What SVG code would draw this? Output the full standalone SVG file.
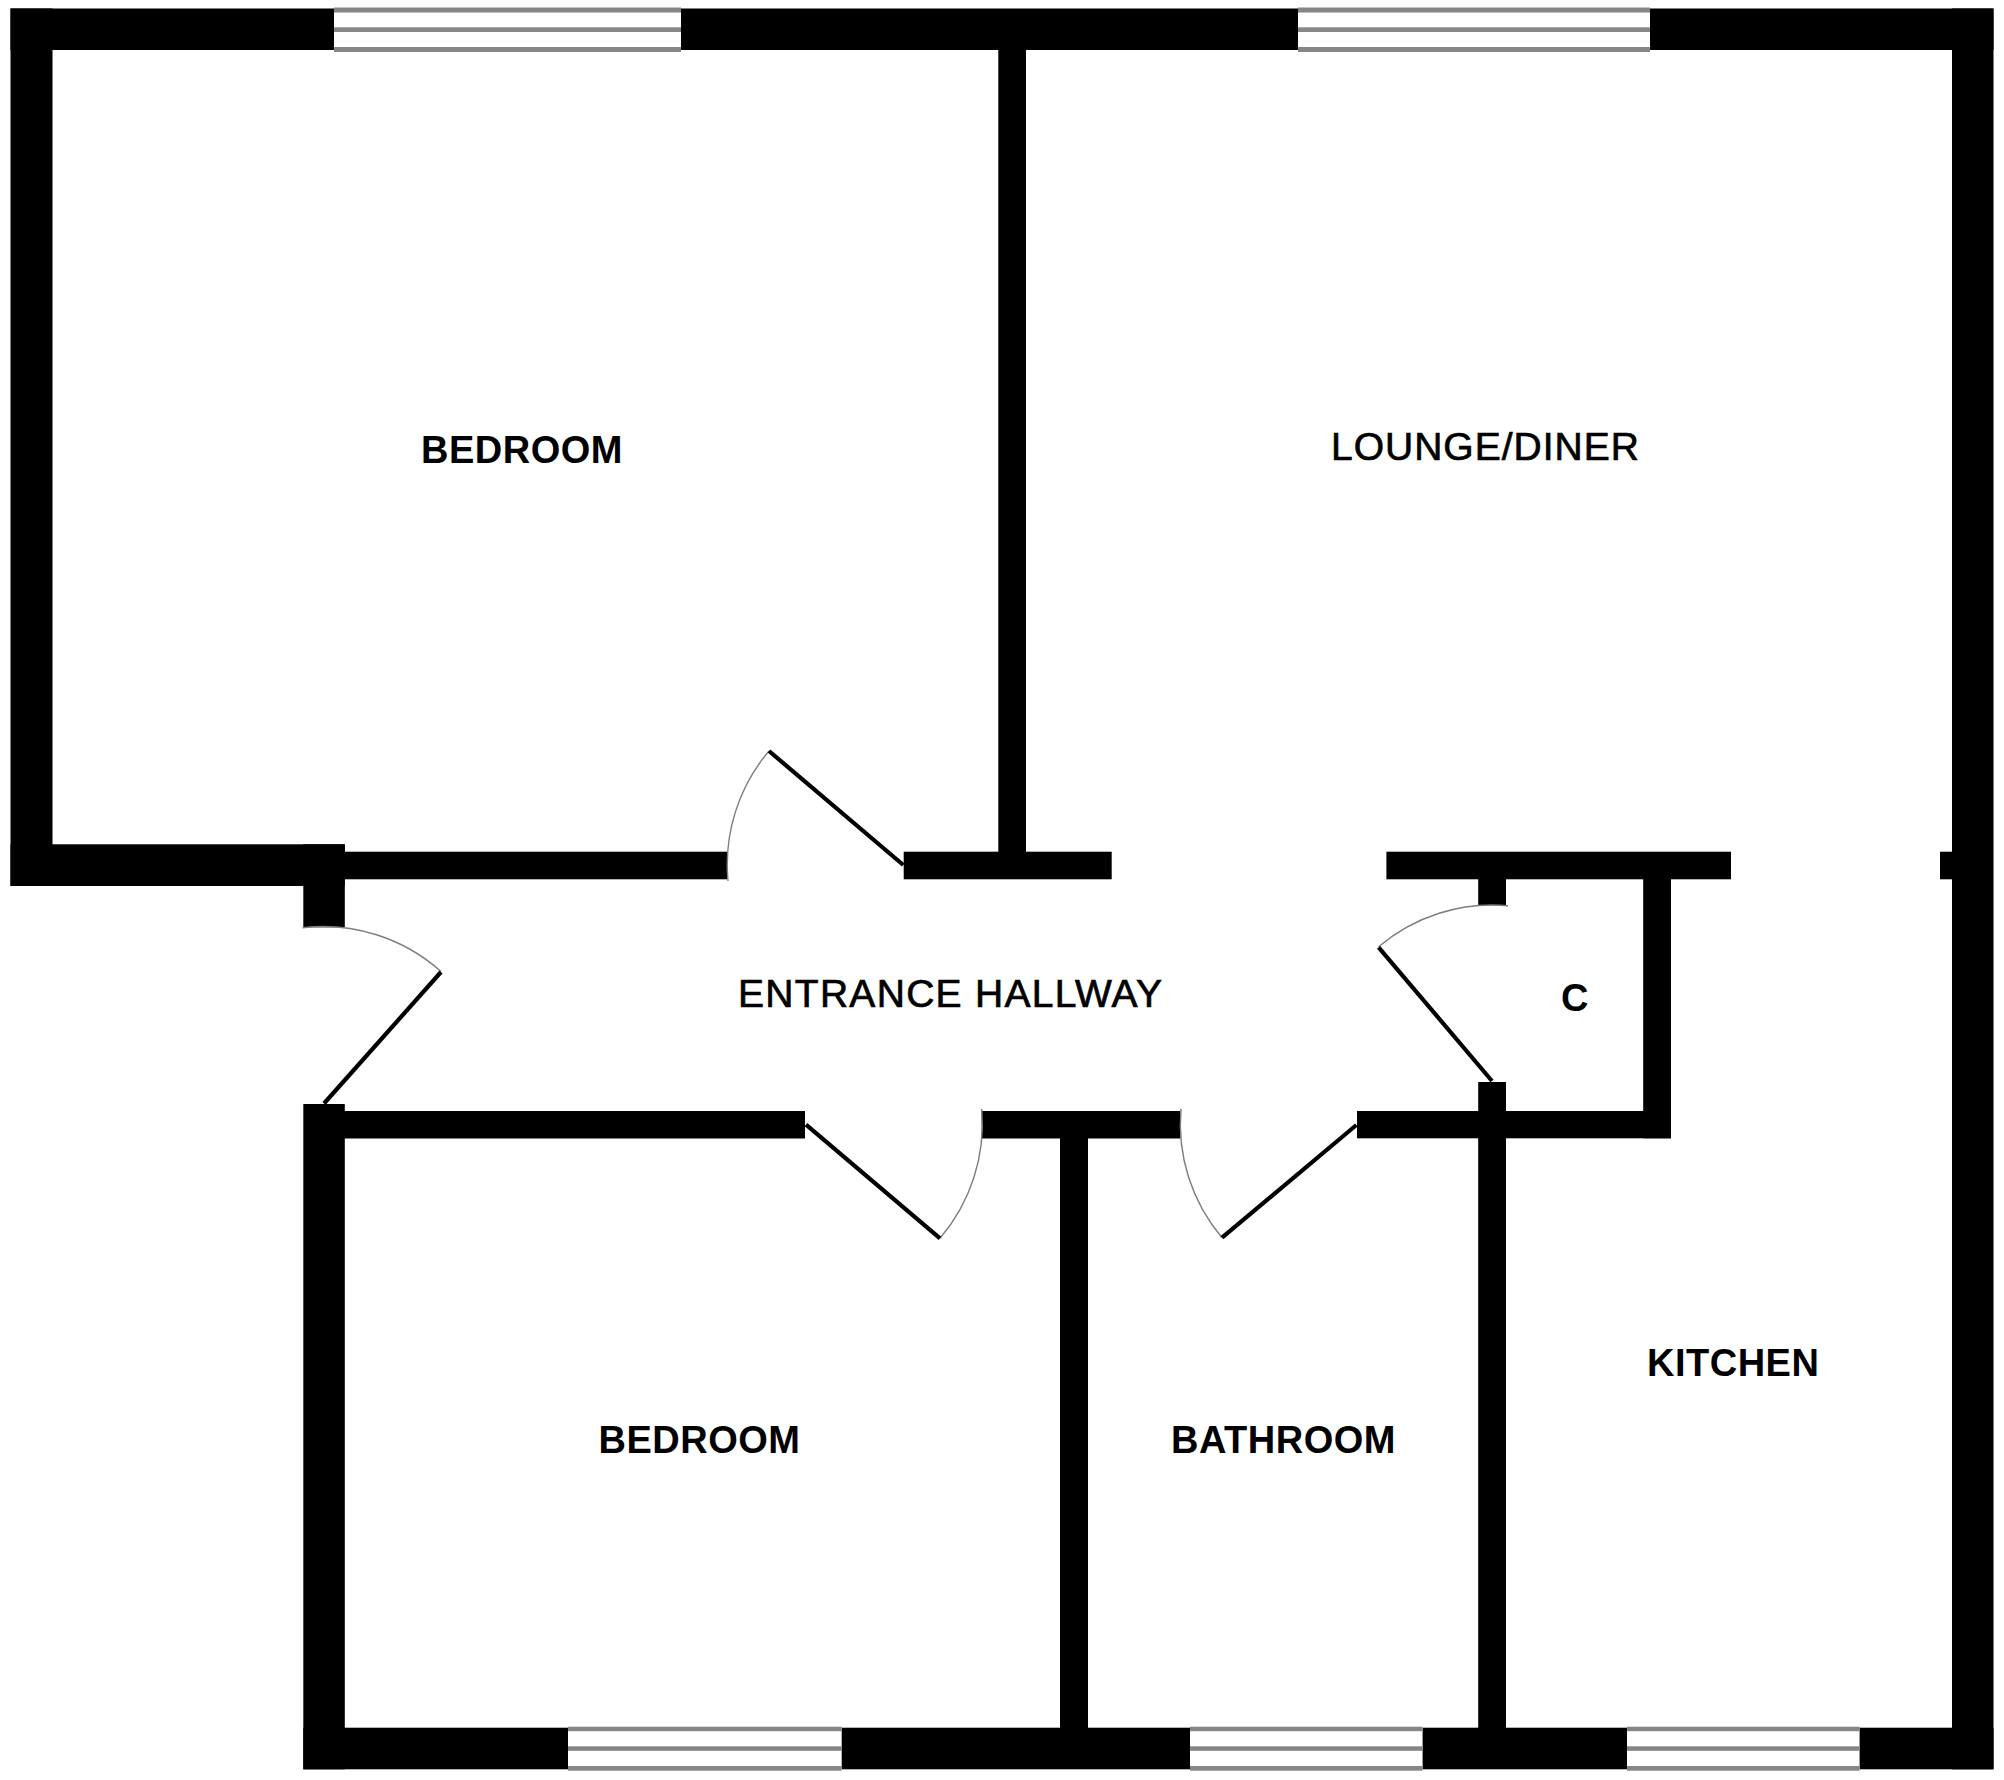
<svg xmlns="http://www.w3.org/2000/svg" width="2004" height="1780" viewBox="0 0 2004 1780">
<style>
.wall{fill:#000}
.win{fill:#fff}
.bar{fill:#868686}
.arc{fill:none;stroke:#7d7d7d;stroke-width:1.4}
.leaf{fill:none;stroke:#000;stroke-width:4.2}
text{font-family:"Liberation Sans",Arial,sans-serif;font-size:38px;fill:#000}
.b{font-weight:700;letter-spacing:.5px}
.r{font-size:39px;letter-spacing:1px;stroke:#000;stroke-width:.7px}
</style>
<rect width="2004" height="1780" fill="#fff"/>
<g id="walls">
<rect class="wall" x="10.5" y="8.5" width="1983" height="41.5"/>
<rect class="wall" x="10.5" y="8.5" width="42" height="877.5"/>
<rect class="wall" x="10.5" y="844.3" width="334.3" height="41.7"/>
<rect class="wall" x="303.3" y="844.3" width="41.5" height="83"/>
<rect class="wall" x="344" y="851.7" width="383" height="27.6"/>
<rect class="wall" x="903.7" y="851.7" width="208" height="27.6"/>
<rect class="wall" x="998.3" y="40" width="27.7" height="820"/>
<rect class="wall" x="1386.4" y="851.7" width="344.6" height="27.6"/>
<rect class="wall" x="1478.2" y="870" width="27.8" height="35.3"/>
<rect class="wall" x="1643.2" y="870" width="27.8" height="268.3"/>
<rect class="wall" x="1940" y="851.7" width="20" height="27.6"/>
<rect class="wall" x="1952" y="8.5" width="41.5" height="1760.8"/>
<rect class="wall" x="303.3" y="1104" width="41.5" height="665.3"/>
<rect class="wall" x="344" y="1111" width="461" height="27.5"/>
<rect class="wall" x="981.7" y="1111" width="198.7" height="27.5"/>
<rect class="wall" x="1060" y="1130" width="28" height="600"/>
<rect class="wall" x="1357" y="1111" width="314" height="27.3"/>
<rect class="wall" x="1478.2" y="1082" width="27.8" height="650"/>
<rect class="wall" x="303.3" y="1727.7" width="1690.2" height="41.6"/>
</g>
<g id="window-bedroom-top">
<rect class="win" x="334" y="7" width="347" height="45"/>
<rect class="bar" x="334" y="7.5" width="347" height="5"/><rect class="bar" x="334" y="27.3" width="347" height="4.7"/><rect class="bar" x="334" y="47" width="347" height="5"/>
</g>
<g id="window-lounge">
<rect class="win" x="1298" y="7" width="352" height="45"/>
<rect class="bar" x="1298" y="7.5" width="352" height="5"/><rect class="bar" x="1298" y="27.3" width="352" height="4.7"/><rect class="bar" x="1298" y="47" width="352" height="5"/>
</g>
<g id="window-bedroom-bottom">
<rect class="win" x="568" y="1726" width="273.7" height="45"/>
<rect class="bar" x="568" y="1726.7" width="273.7" height="4.5"/><rect class="bar" x="568" y="1746.3" width="273.7" height="4.5"/><rect class="bar" x="568" y="1766" width="273.7" height="4.7"/>
</g>
<g id="window-bathroom">
<rect class="win" x="1190" y="1726" width="232.6" height="45"/>
<rect class="bar" x="1190" y="1726.7" width="232.6" height="4.5"/><rect class="bar" x="1190" y="1746.3" width="232.6" height="4.5"/><rect class="bar" x="1190" y="1766" width="232.6" height="4.7"/>
</g>
<g id="window-kitchen">
<rect class="win" x="1627" y="1726" width="232.6" height="45"/>
<rect class="bar" x="1627" y="1726.7" width="232.6" height="4.5"/><rect class="bar" x="1627" y="1746.3" width="232.6" height="4.5"/><rect class="bar" x="1627" y="1766" width="232.6" height="4.7"/>
</g>
<g id="door-entrance">
<path class="arc" d="M302.5 927.7A177 177 0 0 1 441 971.5"/>
<path class="leaf" d="M324 1103.5L441 972"/>
</g>
<g id="door-bedroom-top">
<path class="arc" d="M728 881A176 176 0 0 1 769 751"/>
<path class="leaf" d="M903.3 865L769 751"/>
</g>
<g id="door-bedroom-bottom">
<path class="arc" d="M981.7 1109A176 176 0 0 1 940 1238.3"/>
<path class="leaf" d="M806 1124.7L940 1238.3"/>
</g>
<g id="door-bathroom">
<path class="arc" d="M1181 1108.7A176 176 0 0 0 1222 1237.7"/>
<path class="leaf" d="M1356.4 1125L1222 1237.7"/>
</g>
<g id="door-cupboard">
<path class="arc" d="M1508 905.7A176 176 0 0 0 1378.6 946.7"/>
<path class="leaf" d="M1492 1081L1378.6 947.3"/>
</g>
<g id="labels">
<text id="label-bedroom-1" class="b" x="421" y="463">BEDROOM</text>
<text id="label-lounge" class="r" x="1331" y="460">LOUNGE/DINER</text>
<text id="label-hallway" class="r" x="738" y="1007" style="letter-spacing:1.3px">ENTRANCE HALLWAY</text>
<text id="label-c" class="b" x="1561" y="1011">C</text>
<text id="label-bedroom-2" class="b" x="598.5" y="1453">BEDROOM</text>
<text id="label-bathroom" class="b" x="1171" y="1453">BATHROOM</text>
<text id="label-kitchen" class="b" x="1647" y="1376">KITCHEN</text>
</g>
</svg>
